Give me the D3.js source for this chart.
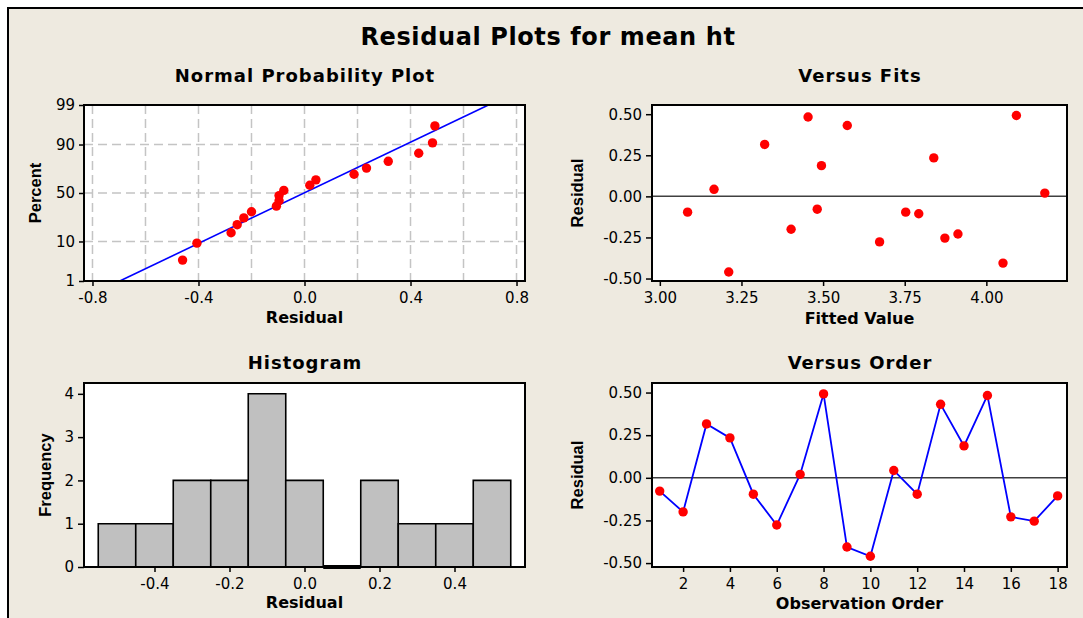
<!DOCTYPE html>
<html>
<head>
<meta charset="utf-8">
<script src="https://cdn.jsdelivr.net/npm/d3@7"></script>
<style>
body { margin: 0; background: #fff; }
.tick text { font-family: "DejaVu Sans", sans-serif; font-size: 15px; fill: #000; }
.tick line { stroke: #000; stroke-width: 1.5; }
.title { font-family: "DejaVu Sans", sans-serif; font-weight: bold; }
.xlab { font-family: "DejaVu Sans", sans-serif; font-weight: bold; font-size: 16px; }
.ylab { font-family: "Liberation Sans", Arial, sans-serif; font-weight: bold; font-size: 16.5px; }
</style>
</head>
<body>
<svg id="chart"></svg>
<script>
const w = 1083;
const h = 618;

// residuals and fits, in observation order
const obsOrder = [1, 2, 3, 4, 5, 6, 7, 8, 9, 10, 11, 12, 13, 14, 15, 16, 17, 18];
const residuals = [-0.078, -0.2, 0.316, 0.234, -0.096, -0.277, 0.02, 0.492, -0.406,
                   -0.46, 0.043, -0.096, 0.431, 0.187, 0.483, -0.229, -0.254, -0.106];
const fittedValues = [3.482, 3.402, 3.321, 3.839, 3.753, 3.673, 4.179, 4.092, 4.051,
                      3.211, 3.166, 3.085, 3.574, 3.495, 3.454, 3.913, 3.873, 3.793];

// normal probability plot: percent for each sorted residual, and the fitted line
const nppPercent = [3.8, 9.24, 14.67, 20.11, 25.54, 30.98, 36.41, 41.85, 47.28,
                    52.72, 58.15, 63.59, 69.02, 74.46, 79.89, 85.33, 90.76, 96.2];
const nppLinePct = [1, 99];
const nppLineRes = [-0.697, 0.694];

// histogram bins
const histMid = [-0.5, -0.4, -0.3, -0.2, -0.1, 0.0, 0.1, 0.2, 0.3, 0.4, 0.5];
const histCount = [1, 1, 2, 2, 4, 2, 0, 2, 1, 1, 2];
const binWidth = 0.1;

// tick values
const nppXTicks = [-0.8, -0.4, 0, 0.4, 0.8];
const nppXGrid = [-0.8, -0.6, -0.4, -0.2, 0, 0.2, 0.4, 0.6, 0.8];
const nppYTicks = [1, 10, 50, 90, 99];
const nppYGrid = [10, 50, 90];
const fitXTicks = [3.0, 3.25, 3.5, 3.75, 4.0];
const resTicks = [-0.5, -0.25, 0, 0.25, 0.5];
const histXTicks = [-0.4, -0.2, 0, 0.2, 0.4];
const histYTicks = [0, 1, 2, 3, 4];
const orderTicks = [2, 4, 6, 8, 10, 12, 14, 16, 18];

// inverse normal cdf (Acklam)
function probit(p) {
  const a = [-39.69683028665376, 220.9460984245205, -275.9285104469687, 138.3577518672690, -30.66479806614716, 2.506628277459239];
  const b = [-54.47609879822406, 161.5858368580409, -155.6989798598866, 66.80131188771972, -13.28068155288572];
  const c = [-0.007784894002430293, -0.3223964580411365, -2.400758277161838, -2.549732539343734, 4.374664141464968, 2.938163982698783];
  const d = [0.007784695709041462, 0.3224671290700398, 2.445134137142996, 3.754408661907416];
  const pl = 0.02425;
  let q, r;
  if (p < pl) {
    q = Math.sqrt(-2 * Math.log(p));
    return (((((c[0]*q+c[1])*q+c[2])*q+c[3])*q+c[4])*q+c[5]) / ((((d[0]*q+d[1])*q+d[2])*q+d[3])*q+1);
  }
  if (p > 1 - pl) {
    q = Math.sqrt(-2 * Math.log(1 - p));
    return -(((((c[0]*q+c[1])*q+c[2])*q+c[3])*q+c[4])*q+c[5]) / ((((d[0]*q+d[1])*q+d[2])*q+d[3])*q+1);
  }
  q = p - 0.5; r = q * q;
  return (((((a[0]*r+a[1])*r+a[2])*r+a[3])*r+a[4])*r+a[5])*q / (((((b[0]*r+b[1])*r+b[2])*r+b[3])*r+b[4])*r+1);
}

let svg = d3.select("#chart").attr("width", w).attr("height", h);

svg.append("rect").attr("x", 8).attr("y", 8).attr("width", 1200).attr("height", 800)
  .attr("fill", "#EEEAE0").attr("stroke", "#000").attr("stroke-width", 2);

svg.append("text").attr("class", "title").attr("x", 548).attr("y", 45)
  .attr("text-anchor", "middle").attr("font-size", 24).attr("letter-spacing", 0.6)
  .text("Residual Plots for mean ht");

function panel(box, title, titleY) {
  let g = svg.append("g");
  g.append("rect").attr("x", box.l).attr("y", box.t).attr("width", box.r - box.l).attr("height", box.b - box.t)
    .attr("fill", "#fff");
  svg.append("text").attr("class", "title").attr("x", (box.l + box.r) / 2 + 0.5).attr("y", titleY)
    .attr("text-anchor", "middle").attr("font-size", 18).attr("letter-spacing", 1)
    .text(title);
  return g;
}

function frame(g, box) {
  g.append("rect").attr("x", box.l).attr("y", box.t).attr("width", box.r - box.l).attr("height", box.b - box.t)
    .attr("fill", "none").attr("stroke", "#000").attr("stroke-width", 2);
}

function axes(g, box, x, y, xt, yt, xf, yf) {
  g.append("g").attr("transform", "translate(0," + box.b + ")")
    .call(d3.axisBottom(x).tickValues(xt).tickFormat(xf).tickSize(5).tickPadding(6))
    .call(a => a.select(".domain").remove());
  g.append("g").attr("transform", "translate(" + box.l + ",0)")
    .call(d3.axisLeft(y).tickValues(yt).tickFormat(yf).tickSize(6).tickPadding(4))
    .call(a => a.select(".domain").remove());
}

function labels(box, xlab, xlabY, ylab, ylabX) {
  svg.append("text").attr("class", "xlab").attr("x", (box.l + box.r) / 2).attr("y", xlabY)
    .attr("text-anchor", "middle").text(xlab);
  svg.append("text").attr("class", "ylab")
    .attr("transform", "translate(" + ylabX + "," + (box.t + box.b) / 2 + ") rotate(-90)")
    .attr("text-anchor", "middle").text(ylab);
}

const f1 = d => d.toFixed(1);
const f2 = d => d.toFixed(2);
const f0 = d => String(d);

// ---- Normal probability plot
{
  const box = {l: 84, r: 525, t: 105, b: 281};
  let g = panel(box, "Normal Probability Plot", 82);
  let x = d3.scaleLinear().domain([-0.832, 0.832]).range([box.l, box.r]);
  let z = d3.scaleLinear().domain([probit(0.01), probit(0.99)]).range([box.b, box.t]);
  let y = p => z(probit(p / 100));

  g.selectAll(".gx").data(nppXGrid).enter().append("line")
    .attr("x1", d => x(d)).attr("x2", d => x(d)).attr("y1", box.t).attr("y2", box.b)
    .attr("stroke", "#c4c4c4").attr("stroke-width", 1.5).attr("stroke-dasharray", "9,5");
  g.selectAll(".gy").data(nppYGrid).enter().append("line")
    .attr("x1", box.l).attr("x2", box.r).attr("y1", d => y(d)).attr("y2", d => y(d))
    .attr("stroke", "#c4c4c4").attr("stroke-width", 1.5).attr("stroke-dasharray", "9,5");

  g.append("path").datum(nppLinePct.map((p, i) => [nppLineRes[i], p]))
    .attr("d", d3.line().x(d => x(d[0])).y(d => y(d[1])))
    .attr("fill", "none").attr("stroke", "#0000ff").attr("stroke-width", 1.6);

  let sorted = d3.sort(residuals);
  g.selectAll("circle").data(sorted).enter().append("circle")
    .attr("cx", d => x(d)).attr("cy", (d, i) => y(nppPercent[i])).attr("r", 4.7).attr("fill", "#ff0000");

  frame(g, box);
  g.append("g").attr("transform", "translate(0," + box.b + ")")
    .call(d3.axisBottom(x).tickValues(nppXTicks).tickFormat(f1).tickSize(5).tickPadding(6))
    .call(a => a.select(".domain").remove());
  g.append("g").attr("transform", "translate(" + box.l + ",0)")
    .call(d3.axisLeft(d3.scaleLinear().domain(z.domain()).range(z.range()))
      .tickValues(nppYTicks.map(p => probit(p / 100))).tickFormat((d, i) => String(nppYTicks[i]))
      .tickSize(5).tickPadding(4))
    .call(a => a.select(".domain").remove());
  labels(box, "Residual", 323, "Percent", 41);
}

// ---- Versus fits
{
  const box = {l: 652, r: 1067, t: 105, b: 281};
  let g = panel(box, "Versus Fits", 82);
  let x = d3.scaleLinear().domain([2.976, 4.247]).range([box.l, box.r]);
  let y = d3.scaleLinear().domain([-0.515, 0.556]).range([box.b, box.t]);
  g.append("line").attr("x1", box.l).attr("x2", box.r).attr("y1", y(0)).attr("y2", y(0))
    .attr("stroke", "#404040").attr("stroke-width", 1.5);
  g.selectAll("circle").data(residuals).enter().append("circle")
    .attr("cx", (d, i) => x(fittedValues[i])).attr("cy", d => y(d)).attr("r", 4.7).attr("fill", "#ff0000");
  frame(g, box);
  axes(g, box, x, y, fitXTicks, resTicks, f2, f2);
  labels(box, "Fitted Value", 324, "Residual", 583);
}

// ---- Histogram
{
  const box = {l: 84, r: 525, t: 383, b: 567};
  let g = panel(box, "Histogram", 369);
  let x = d3.scaleLinear().domain([-0.588, 0.588]).range([box.l, box.r]);
  let y = d3.scaleLinear().domain([0, 4.25]).range([box.b, box.t]);
  g.selectAll(".bar").data(histMid).enter().append("path")
    .attr("d", (d, i) => {
      let x0 = x(d - binWidth / 2), x1 = x(d + binWidth / 2), y0 = y(0), y1 = y(histCount[i]);
      return "M" + x0 + "," + y0 + "V" + y1 + "H" + x1 + "V" + y0 + "Z";
    })
    .attr("fill", "#c0c0c0").attr("stroke", "#000")
    .attr("stroke-width", (d, i) => histCount[i] === 0 ? 4 : 1.6);
  frame(g, box);
  axes(g, box, x, y, histXTicks, histYTicks, f1, f0);
  labels(box, "Residual", 608, "Frequency", 51);
}

// ---- Versus order
{
  const box = {l: 652, r: 1067, t: 383, b: 567};
  let g = panel(box, "Versus Order", 369);
  let x = d3.scaleLinear().domain([0.671, 18.4]).range([box.l, box.r]);
  let y = d3.scaleLinear().domain([-0.523, 0.556]).range([box.b, box.t]);
  g.append("line").attr("x1", box.l).attr("x2", box.r).attr("y1", y(0)).attr("y2", y(0))
    .attr("stroke", "#404040").attr("stroke-width", 1.5);
  g.append("path").datum(residuals)
    .attr("d", d3.line().x((d, i) => x(obsOrder[i])).y(d => y(d)))
    .attr("fill", "none").attr("stroke", "#0000ff").attr("stroke-width", 1.8);
  g.selectAll("circle").data(residuals).enter().append("circle")
    .attr("cx", (d, i) => x(obsOrder[i])).attr("cy", d => y(d)).attr("r", 4.7).attr("fill", "#ff0000");
  frame(g, box);
  axes(g, box, x, y, orderTicks, resTicks, f0, f2);
  labels(box, "Observation Order", 609, "Residual", 583);
}
</script>
</body>
</html>
